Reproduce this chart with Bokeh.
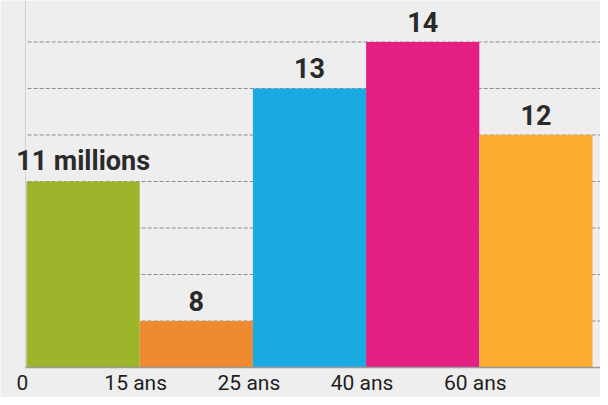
from bokeh.plotting import figure
from bokeh.models import ColumnDataSource, Range1d
from bokeh.core.properties import value
from bokeh.embed import file_html
from bokeh.resources import INLINE

# Data
groups = ["0-15 ans", "15-25 ans", "25-40 ans", "40-60 ans", "60 ans et +"]
values = [11, 8, 13, 14, 12]
value_labels = ["11 millions", "8", "13", "14", "12"]
colors = ["#9cb52a", "#f08a30", "#1aaae2", "#e51e84", "#fcac30"]
tick_labels = ["0", "15 ans", "25 ans", "40 ans", "60 ans"]
tick_pos = [0, 1, 2, 3, 4]
grid_values = [8, 9, 10, 11, 12, 13, 14]

base = 7
n = len(values)
left = list(range(n))
right = [i + 1 for i in left]
center = [i + 0.5 for i in left]

X0, X1 = -0.2297, 5.0707
Y0, Y1 = 6.355, 14.892

src = ColumnDataSource(dict(left=left, right=right, center=center, top=values,
                            color=colors, label=value_labels))

p = figure(width=600, height=397, output_backend="svg", toolbar_location=None,
           x_range=Range1d(X0, X1), y_range=Range1d(Y0, Y1),
           min_border_left=0, min_border_right=0, min_border_top=0, min_border_bottom=0)
p.background_fill_color = "#eeeeee"
p.border_fill_color = "#eeeeee"
p.outline_line_color = None
p.xaxis.visible = False
p.yaxis.visible = False
p.xgrid.visible = False
p.ygrid.visible = False

# dashed horizontal guide lines
p.segment(x0=[0.01] * len(grid_values), x1=[X1] * len(grid_values),
          y0=grid_values, y1=grid_values, line_color="#8c8c8c",
          line_dash="4 2", line_width=1)

# faint left axis
p.segment(x0=[-0.009], x1=[-0.009], y0=[base], y1=[Y1], line_color="#cdd2d8", line_width=1)

# bars
p.quad(left="left", right="right", bottom=base, top="top", fill_color="color",
       line_color=None, source=src)

# baseline axis line
p.segment(x0=[-0.009], x1=[X1], y0=[base], y1=[base], line_color="#9a9a9a", line_width=1.5)

# value labels
p.text(x="center", y="top", text="label", source=src, text_align="center",
       text_baseline="alphabetic", y_offset=-20, text_font_size="27px",
       text_font_style="bold", text_color="#2a2a2a", text_font=value("Roboto"))

# bottom tick labels
p.text(x=tick_pos, y=[base] * len(tick_pos), text=tick_labels, text_align="center",
       text_baseline="alphabetic", x_offset=-4, y_offset=15, text_font_size="21px",
       text_color="#1e1e1e", text_font=value("Roboto"))

open("out.html", "w").write(file_html(p, INLINE))
